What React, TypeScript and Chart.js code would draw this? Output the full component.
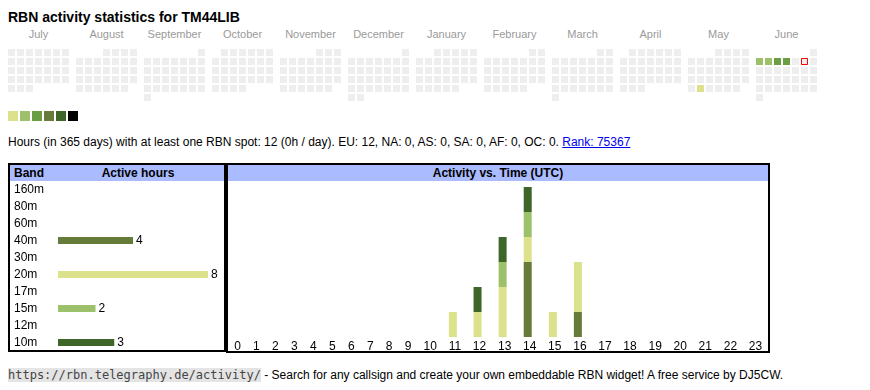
import React, { useEffect, useRef } from 'react';
import { Chart, registerables, CategoryScale } from 'chart.js';

Chart.register(...registerables);

const FONT = "Arial, 'Liberation Sans', Helvetica, sans-serif";

// ---------- data ----------
const TITLE = 'RBN activity statistics for TM44LIB';
const MONTH_LABELS = ['July', 'August', 'September', 'October', 'November', 'December', 'January', 'February', 'March', 'April', 'May', 'June'];
const CAL_START_YEAR = 2024;
const CAL_START_MONTH = 6; // July (0-based)
const ACTIVE_DATES = ['2025-05-27', '2025-06-02', '2025-06-03', '2025-06-04', '2025-06-05'];
const ACTIVE_LEVELS = [1, 2, 2, 3, 3];
const TODAY = '2025-06-07';
const LEVEL_COLORS = ['#eeeeee', '#dbe28b', '#9dc06b', '#6a9e43', '#667b3a', '#3d6628', '#000000'];

const BANDS = ['160m', '80m', '60m', '40m', '30m', '20m', '17m', '15m', '12m', '10m'];
const BAND_HOURS = [0, 0, 0, 4, 0, 8, 0, 2, 0, 3];
const BAND_COLORS = ['#000000', '#3d6628', '#667b3a', '#667b3a', '#6a9e43', '#dbe28b', '#9dc06b', '#9dc06b', '#3d6628', '#3d6628'];

const HOUR_LABELS = ['0', '1', '2', '3', '4', '5', '6', '7', '8', '9', '10', '11', '12', '13', '14', '15', '16', '17', '18', '19', '20', '21', '22', '23'];
const HOURS_40M = [0, 0, 0, 0, 0, 0, 0, 0, 0, 0, 0, 0, 0, 0, 3, 0, 1, 0, 0, 0, 0, 0, 0, 0];
const HOURS_20M = [0, 0, 0, 0, 0, 0, 0, 0, 0, 0, 0, 1, 1, 2, 1, 1, 2, 0, 0, 0, 0, 0, 0, 0];
const HOURS_15M = [0, 0, 0, 0, 0, 0, 0, 0, 0, 0, 0, 0, 0, 1, 1, 0, 0, 0, 0, 0, 0, 0, 0, 0];
const HOURS_10M = [0, 0, 0, 0, 0, 0, 0, 0, 0, 0, 0, 0, 1, 1, 1, 0, 0, 0, 0, 0, 0, 0, 0, 0];
const HOUR_MAX = 6;

const STATS_TEXT = 'Hours (in 365 days) with at least one RBN spot: 12 (0h / day). EU: 12, NA: 0, AS: 0, SA: 0, AF: 0, OC: 0. ';
const RANK_TEXT = 'Rank: 75367';
const FOOTER_URL = 'https://rbn.telegraphy.de/activity/';
const FOOTER_TEXT = ' - Search for any callsign and create your own embeddable RBN widget! A free service by DJ5CW.';

// ---------- layout constants ----------
const CELL = 7;
const CELL_PITCH = 9;
const BLOCK_PITCH = 68;
const HEADER_BG = '#aabbff';
const BAR_OFFSET = -2; // bars sit slightly left of the column centre in the original table

// custom category scale imitating auto-sized HTML table columns
class TableColumnScale extends CategoryScale {
  static id = 'tablecolumn';
  static defaults = { ...(CategoryScale as any).defaults };
  colCenter(index: number): number {
    const self: any = this;
    const labels: string[] = self.getLabels();
    const ctx: CanvasRenderingContext2D = self.ctx;
    ctx.save();
    ctx.font = `11px ${FONT}`;
    const widths = labels.map((l) => ctx.measureText(String(l)).width);
    ctx.restore();
    const sum = widths.reduce((a, b) => a + b, 0);
    const pad = (self.width - sum) / labels.length;
    let x = self.left;
    for (let i = 0; i < index; i++) x += widths[i] + pad;
    return x + (widths[index] + pad) / 2;
  }
  getPixelForValue(value: any): number {
    const self: any = this;
    const v = typeof value === 'number' ? value : self.parse(value);
    if (v === null || v === undefined || isNaN(v)) return NaN;
    return this.colCenter(Math.round(v)) + BAR_OFFSET;
  }
  getPixelForTick(index: number): number {
    return this.colCenter(index);
  }
}
Chart.register(TableColumnScale as any);

function buildCalendar() {
  const points: { x: number; y: number }[] = [];
  const colors: string[] = [];
  const today: { x: number; y: number }[] = [];
  const start = Date.UTC(CAL_START_YEAR, CAL_START_MONTH, 1);
  const end = Date.UTC(CAL_START_YEAR + 1, CAL_START_MONTH, 1);
  for (let t = start; t < end; t += 86400000) {
    const d = new Date(t);
    const y = d.getUTCFullYear();
    const m = d.getUTCMonth();
    const monthIdx = (y - CAL_START_YEAR) * 12 + m - CAL_START_MONTH;
    const firstWd = (new Date(Date.UTC(y, m, 1)).getUTCDay() + 6) % 7;
    const wd = (d.getUTCDay() + 6) % 7;
    const row = Math.floor((firstWd + d.getUTCDate() - 1) / 7);
    const iso = d.toISOString().slice(0, 10);
    const ai = ACTIVE_DATES.indexOf(iso);
    const level = ai >= 0 ? ACTIVE_LEVELS[ai] : 0;
    const p = { x: monthIdx * (BLOCK_PITCH / CELL_PITCH) + wd, y: row };
    points.push(p);
    colors.push(LEVEL_COLORS[level]);
    if (iso === TODAY) today.push(p);
  }
  return { points, colors, today };
}

const CAL_W = 840;
const CAL_H = 65;
const CAL_LEFT = 0;
const CAL_TOP = 40;

function makeCalendar(canvas: HTMLCanvasElement) {
  const cal = buildCalendar();
  const xMin = -(8 - CAL_LEFT + CELL / 2) / CELL_PITCH;
  const yMin = -(49 - CAL_TOP + CELL / 2) / CELL_PITCH;
  return new Chart(canvas, {
    type: 'scatter',
    data: {
      datasets: [
        // today marker first: Chart.js paints dataset 0 last (on top)
        {
          data: cal.today,
          pointBackgroundColor: LEVEL_COLORS[0],
          pointBorderColor: '#ff0000',
          pointBorderWidth: 1,
          pointRadius: (CELL - 1) / Math.SQRT2,
          pointStyle: 'rect',
        } as any,
        {
          data: cal.points,
          pointBackgroundColor: cal.colors,
          pointBorderColor: 'rgba(0,0,0,0)',
          pointBorderWidth: 0,
          pointRadius: CELL / Math.SQRT2,
          pointStyle: 'rect',
        } as any,
      ],
    },
    options: {
      animation: false,
      responsive: false,
      events: [],
      layout: { padding: 0, autoPadding: false },
      plugins: { legend: { display: false }, tooltip: { enabled: false } },
      scales: {
        x: { type: 'linear', display: false, min: xMin, max: xMin + CAL_W / CELL_PITCH },
        y: { type: 'linear', display: false, reverse: true, min: yMin, max: yMin + CAL_H / CELL_PITCH },
      },
    } as any,
  });
}

const bandValueLabels = {
  id: 'bandValueLabels',
  afterDatasetsDraw(chart: any) {
    const ctx = chart.ctx;
    const meta = chart.getDatasetMeta(0);
    ctx.save();
    ctx.font = `12px ${FONT}`;
    ctx.fillStyle = '#000';
    ctx.textBaseline = 'middle';
    ctx.textAlign = 'left';
    meta.data.forEach((el: any, i: number) => {
      const v = BAND_HOURS[i];
      if (!v) return;
      ctx.fillText(String(v), el.x + 3, el.y + 0.5);
    });
    ctx.restore();
  },
};

const BAND_W = 204;
const BAND_H = 170;
const BAND_AXIS_MAX = 8 * 160 / 150;

function makeBands(canvas: HTMLCanvasElement) {
  return new Chart(canvas, {
    type: 'bar',
    data: {
      labels: BANDS,
      datasets: [{ data: BAND_HOURS, backgroundColor: BAND_COLORS, barThickness: 7, borderWidth: 0, inflateAmount: 0 } as any],
    },
    options: {
      indexAxis: 'y',
      animation: false,
      responsive: false,
      events: [],
      layout: { padding: 0, autoPadding: false },
      plugins: { legend: { display: false }, tooltip: { enabled: false } },
      scales: {
        x: { display: false, min: 0, max: BAND_AXIS_MAX },
        y: {
          grid: { display: false, drawTicks: false },
          border: { display: false },
          ticks: { crossAlign: 'far', color: '#000', font: { family: FONT, size: 12 }, padding: 0, autoSkip: false },
          afterFit: (s: any) => {
            s.width = 44;
            s.paddingTop = 0;
            s.paddingBottom = 0;
          },
        },
      },
    } as any,
    plugins: [bandValueLabels as any],
  });
}

const TIME_W = 540;
const TIME_H = 170;

function makeTime(canvas: HTMLCanvasElement) {
  const mk = (label: string, data: number[], color: string) => ({
    label,
    data,
    backgroundColor: color,
    barThickness: 8,
    borderWidth: 0,
    inflateAmount: 0,
  });
  return new Chart(canvas, {
    type: 'bar',
    data: {
      labels: HOUR_LABELS,
      datasets: [
        mk('40m', HOURS_40M, BAND_COLORS[3]),
        mk('20m', HOURS_20M, BAND_COLORS[5]),
        mk('15m', HOURS_15M, BAND_COLORS[7]),
        mk('10m', HOURS_10M, BAND_COLORS[9]),
      ] as any,
    },
    options: {
      animation: false,
      responsive: false,
      events: [],
      layout: { padding: { top: 6, left: 0, right: 0, bottom: 0 }, autoPadding: false },
      plugins: { legend: { display: false }, tooltip: { enabled: false } },
      scales: {
        x: {
          type: 'tablecolumn',
          stacked: true,
          grid: { display: false, drawTicks: false },
          border: { display: false },
          ticks: { color: '#000', font: { family: FONT, size: 12 }, padding: 2, autoSkip: false, maxRotation: 0 },
          afterFit: (s: any) => {
            s.height = 14;
            s.paddingLeft = 0;
            s.paddingRight = 0;
          },
        },
        y: { display: false, stacked: true, min: 0, max: HOUR_MAX },
      },
    } as any,
  });
}

// page coordinate helper (container sits at body margin 8,8)
const at = (x: number, y: number): React.CSSProperties => ({ position: 'absolute', left: x - 8, top: y - 8 });

export default function App() {
  const calRef = useRef<HTMLCanvasElement>(null);
  const bandRef = useRef<HTMLCanvasElement>(null);
  const timeRef = useRef<HTMLCanvasElement>(null);

  useEffect(() => {
    const charts: Chart[] = [];
    if (calRef.current) charts.push(makeCalendar(calRef.current));
    if (bandRef.current) charts.push(makeBands(bandRef.current));
    if (timeRef.current) charts.push(makeTime(timeRef.current));
    return () => charts.forEach((c) => c.destroy());
  }, []);

  return (
    <div style={{ position: 'relative', width: 854, height: 374, fontFamily: FONT, color: '#000' }}>
      <div style={{ ...at(8, 9), fontSize: 14, fontWeight: 'bold', lineHeight: '16px', whiteSpace: 'nowrap' }}>{TITLE}</div>

      {MONTH_LABELS.map((m, i) => (
        <div
          key={m}
          style={{
            ...at(8 + i * BLOCK_PITCH - 4, 28),
            width: 6 * CELL_PITCH + CELL + 8,
            textAlign: 'center',
            fontSize: 11,
            lineHeight: '13px',
            color: '#9a9a9a',
            whiteSpace: 'nowrap',
          }}
        >
          {m}
        </div>
      ))}

      <canvas ref={calRef} width={CAL_W} height={CAL_H} style={{ ...at(CAL_LEFT, CAL_TOP), width: CAL_W, height: CAL_H }} />

      {LEVEL_COLORS.slice(1).map((c, i) => (
        <div key={c} style={{ ...at(8 + i * 12, 111), width: 10, height: 10, background: c }} />
      ))}

      <div style={{ ...at(8, 135), fontSize: 12, lineHeight: '14px', whiteSpace: 'nowrap' }}>
        {STATS_TEXT}
        <a href="#" style={{ color: '#0000ee', textDecoration: 'underline' }}>{RANK_TEXT}</a>
      </div>

      {/* left table */}
      <div style={{ ...at(8, 163), width: 214, height: 185, border: '2px solid #000' }} />
      <div style={{ ...at(10, 165), width: 214, height: 16, background: HEADER_BG }} />
      <div style={{ ...at(14, 165), fontSize: 12, fontWeight: 'bold', lineHeight: '16px' }}>Band</div>
      <div style={{ ...at(58, 165), width: 160, textAlign: 'center', fontSize: 12, fontWeight: 'bold', lineHeight: '16px' }}>Active hours</div>
      <canvas ref={bandRef} width={BAND_W} height={BAND_H} style={{ ...at(14, 181), width: BAND_W, height: BAND_H }} />

      {/* right table */}
      <div style={{ ...at(226, 163), width: 540, height: 186, border: '2px solid #000' }} />
      <div style={{ ...at(228, 165), width: 540, height: 16, background: HEADER_BG }} />
      <div style={{ ...at(228, 165), width: 540, textAlign: 'center', fontSize: 12, fontWeight: 'bold', lineHeight: '16px' }}>Activity vs. Time (UTC)</div>
      <canvas ref={timeRef} width={TIME_W} height={TIME_H} style={{ ...at(228, 181), width: TIME_W, height: TIME_H }} />

      <div style={{ ...at(8, 367), fontSize: 12, lineHeight: '16px', whiteSpace: 'nowrap' }}>
        <code style={{ fontFamily: "'DejaVu Sans Mono', monospace", fontSize: 12, background: '#e4e4e4', color: '#444' }}>{FOOTER_URL}</code>
        {FOOTER_TEXT}
      </div>
    </div>
  );
}
